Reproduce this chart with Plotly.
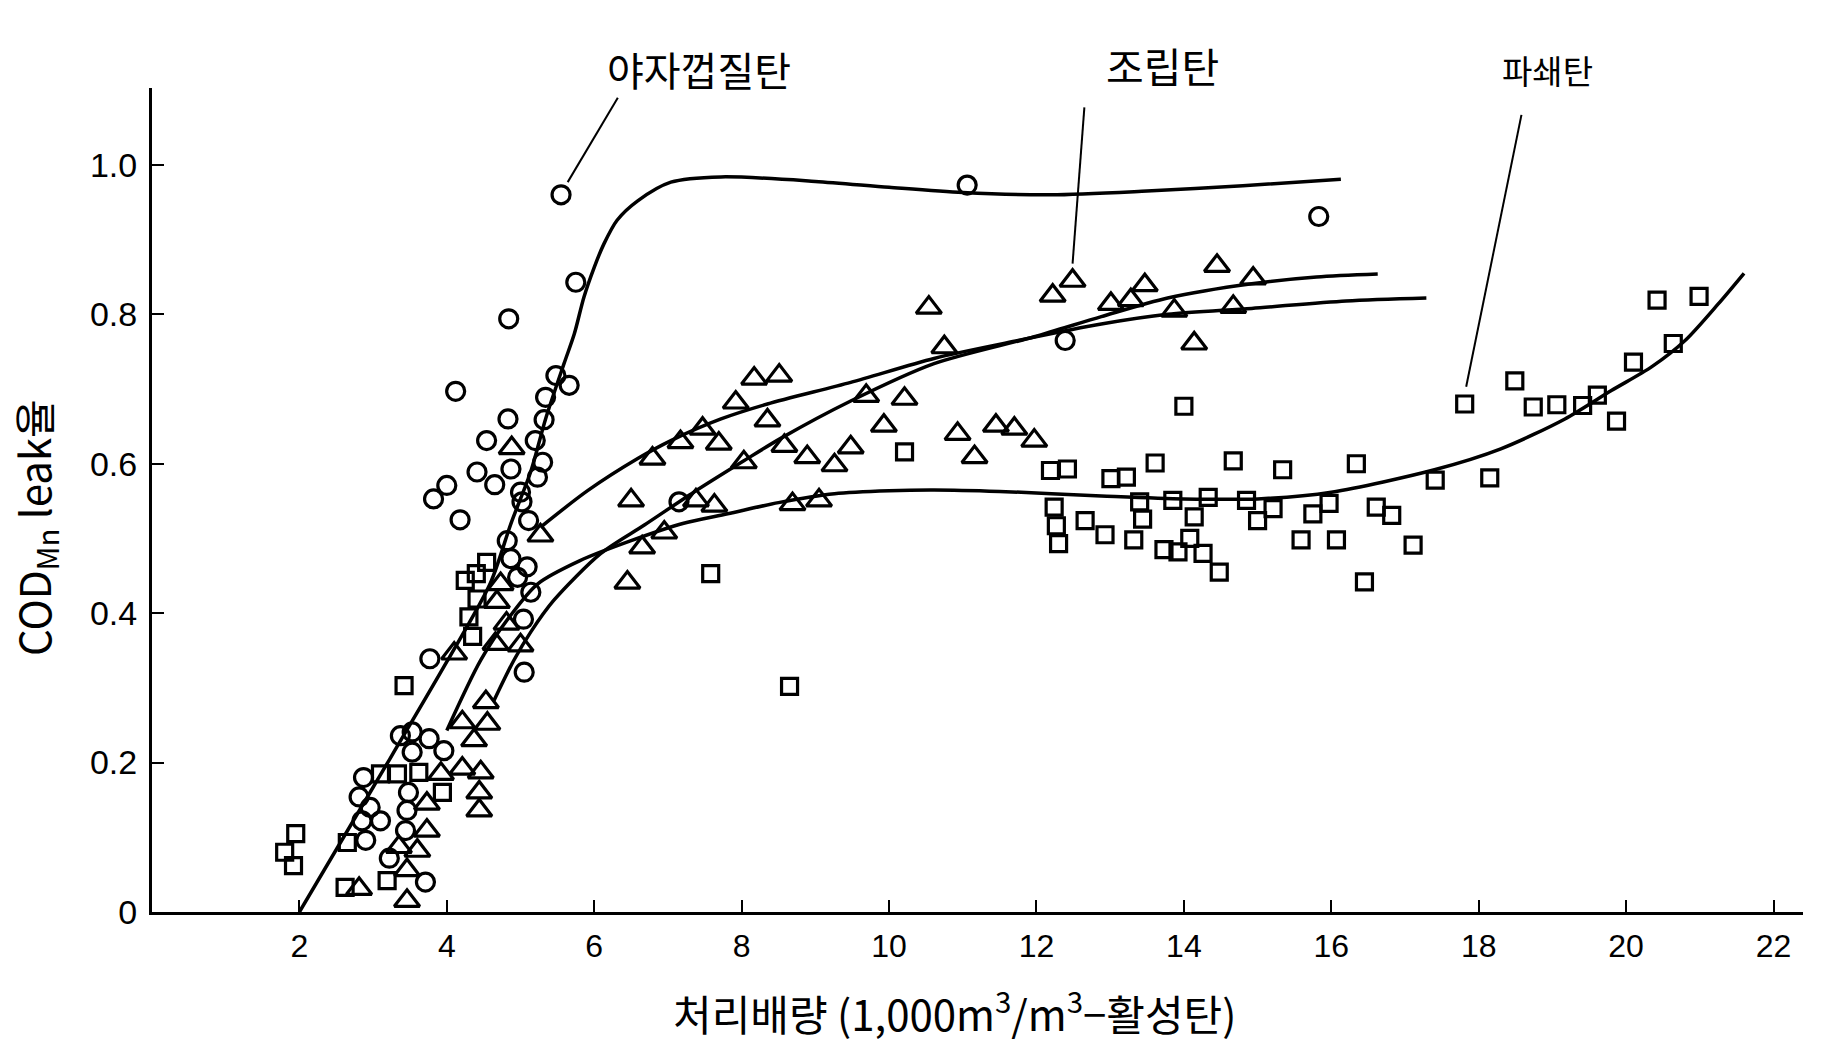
import plotly.graph_objects as go

# ---------------- data ----------------
# 야자껍질탄 (coconut shell carbon) - circles
coco_x = [5.55, 5.75, 4.84, 5.48, 5.66, 5.34, 4.83, 5.32, 4.54, 5.20, 5.30, 4.87, 4.41, 4.65,
          5.23, 5.00, 5.02, 5.11, 4.82, 4.87, 5.09, 4.96, 5.14, 4.12, 4.00, 3.82, 4.18, 5.04,
          5.05, 3.77, 11.06, 15.83, 12.39, 7.15,
          3.37, 3.53, 3.76, 3.53, 3.96, 2.87, 2.81, 2.96, 3.48, 3.46, 2.85, 3.10, 2.90, 3.44,
          3.71, 3.22]
coco_y = [0.960, 0.843, 0.794, 0.718, 0.705, 0.689, 0.660, 0.659, 0.631, 0.631, 0.602, 0.593, 0.589, 0.572,
          0.582, 0.562, 0.549, 0.524, 0.497, 0.473, 0.462, 0.448, 0.428, 0.697, 0.571, 0.553, 0.525, 0.392,
          0.321, 0.339, 0.973, 0.931, 0.765, 0.549,
          0.236, 0.241, 0.232, 0.214, 0.216, 0.180, 0.154, 0.140, 0.160, 0.136, 0.122, 0.122, 0.096, 0.109,
          0.040, 0.072]

# 조립탄 (granular carbon) - triangles
gran_x = [12.49, 12.22, 14.45, 14.94, 13.47, 13.28, 13.01, 13.87, 14.67, 14.14, 10.54, 10.75,
          8.17, 8.51, 7.92, 8.35, 7.47, 7.17, 7.69, 6.79, 8.03, 8.58, 8.89, 9.26, 9.48, 9.69,
          10.21, 9.93, 10.93, 11.16, 11.45, 11.70, 11.97,
          6.50, 7.38, 7.63, 8.69, 9.05, 6.95, 6.65, 6.45,
          4.88, 5.27, 4.73, 4.68, 4.81, 4.66, 5.00, 4.10,
          4.53, 4.21, 4.55, 4.37, 4.21, 4.46, 4.44, 4.44, 3.92, 3.73, 3.73, 3.35, 3.60, 3.46,
          2.81, 3.46]
gran_y = [0.845, 0.825, 0.865, 0.848, 0.839, 0.819, 0.814, 0.805, 0.810, 0.761, 0.809, 0.756,
          0.714, 0.718, 0.682, 0.658, 0.647, 0.629, 0.627, 0.607, 0.602, 0.624, 0.609, 0.598, 0.622, 0.691,
          0.687, 0.651, 0.640, 0.609, 0.651, 0.647, 0.631,
          0.551, 0.551, 0.544, 0.546, 0.551, 0.508, 0.488, 0.441,
          0.621, 0.504, 0.439, 0.415, 0.386, 0.359, 0.357, 0.346,
          0.281, 0.254, 0.252, 0.230, 0.192, 0.187, 0.160, 0.136, 0.185, 0.145, 0.109, 0.087, 0.082, 0.056,
          0.031, 0.015]

# 파쇄탄 (crushed carbon) - squares
crush_x = [17.81, 18.49, 18.74, 19.06, 19.41, 19.61, 19.87, 20.10, 20.64, 20.42, 20.99,
           17.41, 18.15, 16.34, 16.61, 16.82, 17.11, 16.45,
           14.00, 12.19, 12.42, 13.01, 13.22, 13.61, 14.67, 15.34, 12.24, 12.27, 12.30, 12.66,
           12.93, 13.32, 13.40, 13.44, 13.85, 13.73, 13.92, 14.14, 14.08, 14.26, 14.33, 14.48,
           14.85, 15.00, 15.21, 15.75, 15.97, 15.59, 16.07,
           10.21, 7.58, 8.65,
           4.54, 4.40, 4.25, 4.41, 4.30, 4.35, 3.42, 3.10, 3.33, 3.62, 3.94, 2.65, 1.95, 1.80,
           1.92, 3.19, 2.62]
crush_y = [0.680, 0.711, 0.676, 0.679, 0.678, 0.692, 0.657, 0.736, 0.761, 0.819, 0.824,
           0.578, 0.581, 0.600, 0.542, 0.531, 0.491, 0.442,
           0.677, 0.591, 0.593, 0.580, 0.582, 0.601, 0.604, 0.592, 0.542, 0.517, 0.493, 0.524,
           0.505, 0.498, 0.549, 0.526, 0.551, 0.485, 0.482, 0.529, 0.500, 0.480, 0.555, 0.455,
           0.551, 0.524, 0.540, 0.533, 0.547, 0.498, 0.498,
           0.616, 0.453, 0.302,
           0.468, 0.453, 0.444, 0.419, 0.395, 0.369, 0.303, 0.185, 0.185, 0.187, 0.160, 0.093, 0.105, 0.080,
           0.062, 0.042, 0.033]

# hand-drawn trend curves
coco_curve_x = [2.0, 3.0, 4.0, 4.59, 4.87, 5.14, 5.34, 5.59, 5.73, 5.86, 6.0, 6.13, 6.31, 6.59,
                7.04, 7.72, 9.0, 10.0, 11.0, 12.2, 13.5, 14.8, 16.13]
coco_curve_y = [0.0, 0.167, 0.335, 0.44, 0.52, 0.59, 0.66, 0.734, 0.774, 0.823, 0.863, 0.894, 0.926, 0.952,
                0.977, 0.984, 0.978, 0.970, 0.963, 0.960, 0.965, 0.972, 0.981]

gran_curve1_x = [5.27, 5.91, 6.59, 7.04, 7.72, 8.35, 9.48, 10.61, 11.75, 12.88, 13.78, 14.92, 16.2, 17.29]
gran_curve1_y = [0.515, 0.564, 0.607, 0.631, 0.660, 0.680, 0.709, 0.741, 0.765, 0.787, 0.800, 0.808, 0.818, 0.822]

gran_curve2_x = [4.64, 4.91, 5.14, 5.45, 6.09, 6.68, 7.35, 8.03, 8.53, 9.48, 10.61, 11.97, 12.88, 13.78,
                 14.92, 15.8, 16.63]
gran_curve2_y = [0.283, 0.337, 0.375, 0.417, 0.480, 0.518, 0.562, 0.604, 0.634, 0.684, 0.734, 0.770, 0.797, 0.822,
                 0.841, 0.850, 0.854]

crush_curve_x = [4.0, 4.46, 4.85, 5.23, 5.8, 6.5, 7.2, 7.81, 8.5, 9.26, 10.0, 10.61, 11.5, 12.88, 14.0,
                 15.0, 16.0, 17.4, 18.3, 19.17, 19.8, 20.35, 20.8, 21.25, 21.6]
crush_curve_y = [0.243, 0.337, 0.395, 0.439, 0.470, 0.497, 0.520, 0.533, 0.548, 0.560, 0.564, 0.565, 0.563,
                 0.557, 0.553, 0.553, 0.562, 0.592, 0.620, 0.660, 0.698, 0.730, 0.765, 0.814, 0.855]

# labels and leader lines
label_text = ["야자껍질탄", "조립탄", "파쇄탄"]
label_x = [7.42, 13.71, 18.93]
label_y = [1.129, 1.134, 1.127]
leader_x = [[6.32, 5.64], [12.65, 12.49], [18.58, 17.83]]
leader_y = [[1.090, 0.977], [1.077, 0.868], [1.067, 0.703]]

x_ticks = [2, 4, 6, 8, 10, 12, 14, 16, 18, 20, 22]
y_ticks = [0, 0.2, 0.4, 0.6, 0.8, 1.0]
y_tick_text = ["0", "0.2", "0.4", "0.6", "0.8", "1.0"]

X_RANGE = [0, 22.4]
Y_RANGE = [0, 1.103]

# ---------------- figure ----------------
fig = go.Figure()

curve_style = dict(color="black", width=3.5, shape="spline", smoothing=0.8)
for cx, cy in [(coco_curve_x, coco_curve_y), (gran_curve1_x, gran_curve1_y),
               (gran_curve2_x, gran_curve2_y), (crush_curve_x, crush_curve_y)]:
    fig.add_trace(go.Scatter(x=cx, y=cy, mode="lines", line=curve_style,
                             hoverinfo="skip", showlegend=False))

for lx, ly in zip(leader_x, leader_y):
    fig.add_trace(go.Scatter(x=lx, y=ly, mode="lines", line=dict(color="black", width=2),
                             hoverinfo="skip", showlegend=False, cliponaxis=False))

fig.add_trace(go.Scatter(x=crush_x, y=crush_y, mode="markers", showlegend=False,
                         marker=dict(symbol="square-open", size=16, color="black",
                                     line=dict(width=3.2, color="black"))))
fig.add_trace(go.Scatter(x=gran_x, y=gran_y, mode="markers", showlegend=False,
                         marker=dict(symbol="triangle-up-open", size=22, color="black",
                                     line=dict(width=3.2, color="black"))))
fig.add_trace(go.Scatter(x=coco_x, y=coco_y, mode="markers", showlegend=False,
                         marker=dict(symbol="circle-open", size=18, color="black",
                                     line=dict(width=3.2, color="black"))))

annotations = []
label_sizes = [40, 41, 33]
for t, x, y, s in zip(label_text, label_x, label_y, label_sizes):
    annotations.append(dict(text=t,
                            x=(x - X_RANGE[0]) / (X_RANGE[1] - X_RANGE[0]),
                            y=(y - Y_RANGE[0]) / (Y_RANGE[1] - Y_RANGE[0]),
                            xref="paper", yref="paper", showarrow=False,
                            font=dict(family="Noto Sans CJK KR", size=s, color="black"),
                            xanchor="center", yanchor="middle"))

annotations.append(dict(text="처리배량 (1,000m<sup>3</sup>/m<sup>3</sup>−활성탄)",
                        x=0.486, y=-0.12, xref="paper", yref="paper", showarrow=False,
                        font=dict(family="Noto Sans CJK KR", size=42, color="black"),
                        xanchor="center", yanchor="middle"))
annotations.append(dict(text="COD<sub>Mn</sub> leak율",
                        x=-0.071, y=0.467, xref="paper", yref="paper", showarrow=False,
                        textangle=-90,
                        font=dict(family="Noto Sans CJK KR", size=42, color="black"),
                        xanchor="center", yanchor="middle"))

fig.update_layout(
    width=1830, height=1054,
    margin=dict(l=152, r=27, t=88, b=142),
    paper_bgcolor="white", plot_bgcolor="white",
    showlegend=False,
    annotations=annotations,
    xaxis=dict(range=X_RANGE, showgrid=False, zeroline=False, showline=True,
               linecolor="black", linewidth=3, ticks="inside", ticklen=12, tickwidth=2,
               tickcolor="black", tickvals=x_ticks, ticklabelstandoff=4,
               tickfont=dict(family="Liberation Sans", size=32, color="black")),
    yaxis=dict(range=Y_RANGE, showgrid=False, zeroline=False, showline=True,
               linecolor="black", linewidth=3, ticks="inside", ticklen=12, tickwidth=2,
               tickcolor="black", tickvals=y_ticks, ticktext=y_tick_text, ticklabelstandoff=5,
               tickfont=dict(family="Liberation Sans", size=34, color="black")),
)

fig.write_html("out.html")
